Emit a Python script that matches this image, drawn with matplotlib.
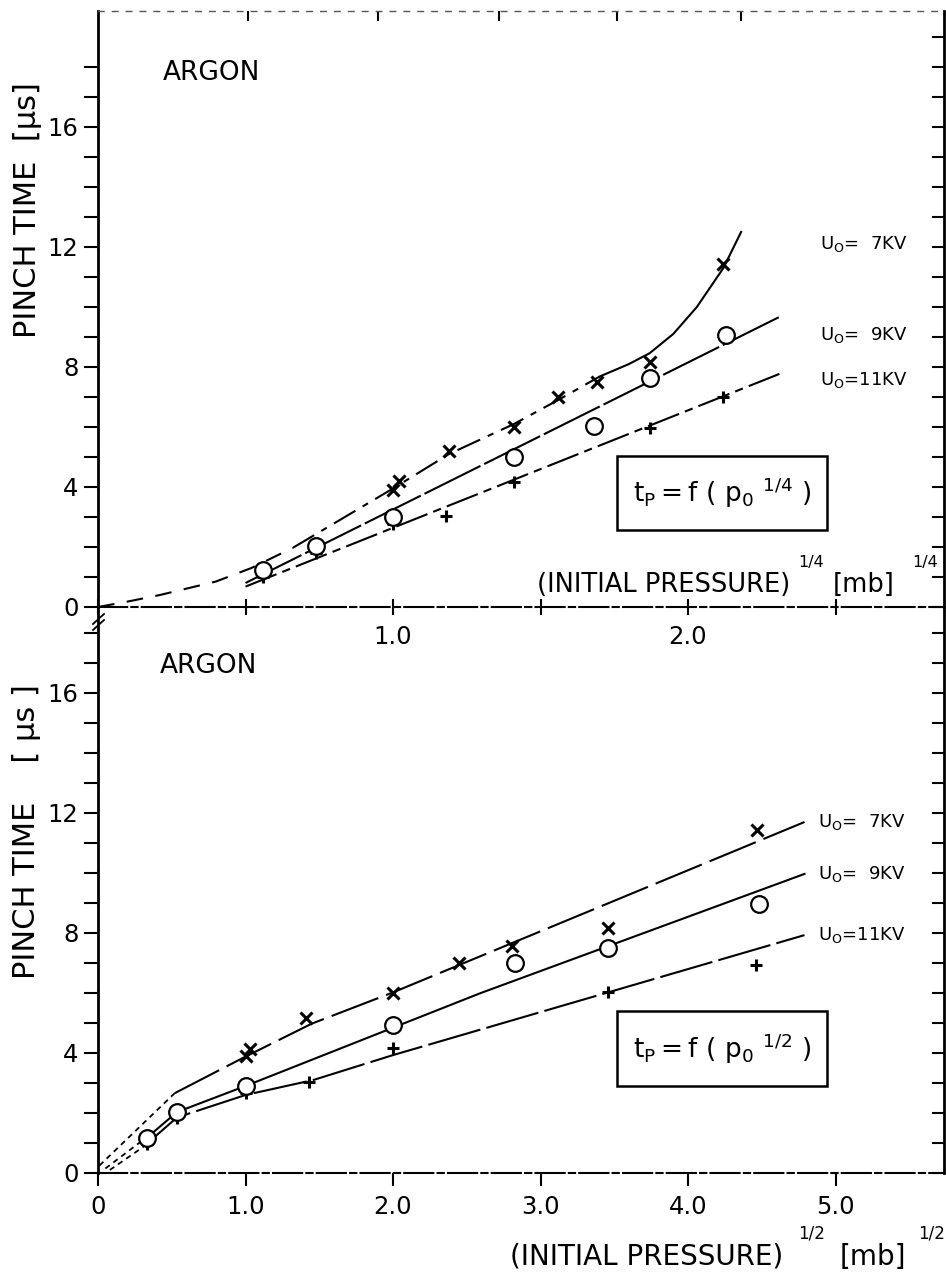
import matplotlib
matplotlib.use("Agg")
import matplotlib.pyplot as plt
from matplotlib.patches import Rectangle
from matplotlib.lines import Line2D
from matplotlib.ticker import FixedLocator, FixedFormatter, MultipleLocator

plt.rcParams['font.family'] = ['DejaVu Sans']
plt.rcParams['mathtext.fontset'] = 'dejavusans'

# ---- data ---------------------------------------------------------------
# upper panel : x = (initial pressure)^1/4 , y = pinch time [us]
top_x_7kv = [1.0, 1.02, 1.19, 1.41, 1.56, 1.69, 1.87, 2.12]
top_y_7kv = [3.9, 4.2, 5.2, 6.0, 7.0, 7.5, 8.17, 11.45]
top_x_9kv = [0.56, 0.74, 1.0, 1.41, 1.68, 1.87, 2.13]
top_y_9kv = [1.23, 2.03, 3.0, 5.0, 6.03, 7.63, 9.07]
top_x_11kv = [0.56, 0.74, 1.0, 1.18, 1.41, 1.87, 2.12]
top_y_11kv = [1.0, 1.8, 2.77, 3.03, 4.17, 5.97, 7.0]

# hand drawn curves of the upper panel
top_origin_x = [0, 0.1, 0.21, 0.4, 0.52, 0.66]
top_origin_y = [0, 0.18, 0.4, 0.85, 1.3, 1.97]
top_fit7_dash_x = [0.66, 1.0, 1.19, 1.41, 1.56, 1.7]
top_fit7_dash_y = [1.97, 3.95, 5.1, 6.1, 6.9, 7.68]
top_fit7_solid_x = [1.7, 1.8, 1.87, 1.95, 2.03, 2.12, 2.18]
top_fit7_solid_y = [7.68, 8.1, 8.46, 9.1, 10.0, 11.3, 12.5]
top_fit9_x = [0.5, 2.31]
top_fit9_y = [0.8, 9.67]
top_fit11_x = [0.5, 2.31]
top_fit11_y = [0.68, 7.77]

# lower panel : x = (initial pressure)^1/2
bot_x_7kv = [1.0, 1.03, 1.41, 2.0, 2.45, 2.81, 3.46, 4.47]
bot_y_7kv = [3.9, 4.12, 5.17, 6.0, 7.0, 7.57, 8.17, 11.43]
bot_x_9kv = [0.33, 0.535, 1.0, 2.0, 2.83, 3.46, 4.48]
bot_y_9kv = [1.17, 2.03, 2.9, 4.93, 7.0, 7.5, 8.97]
bot_x_11kv = [0.33, 0.535, 1.0, 1.43, 2.0, 3.46, 4.46]
bot_y_11kv = [0.97, 1.83, 2.67, 3.03, 4.17, 6.05, 6.93]

bot_fit7_x = [0.52, 1.0, 1.45, 2.0, 4.79]
bot_fit7_y = [2.66, 3.88, 4.98, 6.02, 11.7]
bot_fit9_x = [0.33, 0.535, 1.0, 2.59, 4.79]
bot_fit9_y = [1.17, 2.03, 2.9, 5.99, 9.97]
bot_fit11_x = [0.33, 0.535, 1.0, 1.46, 2.0, 4.79]
bot_fit11_y = [0.97, 1.85, 2.6, 3.1, 3.93, 7.93]
bot_orig7_x = [0.01, 0.52]
bot_orig7_y = [0.25, 2.66]
bot_orig9_x = [0.05, 0.3]
bot_orig9_y = [0.15, 1.08]
bot_orig11_x = [0.08, 0.31]
bot_orig11_y = [0.1, 0.88]

labels_kv = ['U$_\\mathrm{O}$=  7KV', 'U$_\\mathrm{O}$=  9KV', 'U$_\\mathrm{O}$=11KV']
top_label_y = [12.1, 9.07, 7.57]
bot_label_y = [11.7, 9.97, 7.93]

y_major = [0, 4, 8, 12, 16]
top_xticks = [0, 0.5, 1.0, 1.5, 2.0, 2.5]
top_xticklabels = ['', '', '1.0', '', '2.0', '']
top_spine_ticks = [0.51, 0.95, 1.36, 1.76, 2.18]
bot_xticks = [0, 1, 2, 3, 4, 5]
bot_xticklabels = ['0', '1.0', '2.0', '3.0', '4.0', '5.0']

# ---- layout (pixels of the 946 x 1277 picture) --------------------------
W, H = 946, 1277


def fx(px):
    return px / W


def fy(py):
    return 1 - py / H


fig = plt.figure(figsize=(9.46, 12.77), dpi=100)
fig.patch.set_facecolor('white')

ax1 = fig.add_axes([fx(98), fy(607), (944 - 98) / W, (607 - 11) / H])
ax2 = fig.add_axes([fx(98), fy(1173), (944 - 98) / W, (1173 - 607) / H])
ax1.set_xlim(0, 846 / 295)
ax1.set_ylim(0, 596 / 30)
ax2.set_xlim(0, 846 / 147.5)
ax2.set_ylim(0, 566 / 30)

lw = 1.5
mk_x = dict(marker='x', ms=8, mew=2.2, color='black', ls='none', zorder=5)
mk_o = dict(marker='o', ms=12, mew=1.6, mfc='white', mec='black', ls='none', zorder=6)
mk_p = dict(marker='+', ms=8, mew=2.2, color='black', ls='none', zorder=5)

# ---- upper panel --------------------------------------------------------
ax1.plot(top_origin_x, top_origin_y, color='black', lw=lw, ls=(0, (8, 6)))
ax1.plot(top_fit7_dash_x, top_fit7_dash_y, color='black', lw=lw, ls=(0, (12, 4, 3, 4)))
ax1.plot(top_fit7_solid_x, top_fit7_solid_y, color='black', lw=lw)
ax1.plot(top_fit9_x, top_fit9_y, color='black', lw=lw, ls=(0, (30, 2)))
ax1.plot(top_fit11_x, top_fit11_y, color='black', lw=lw, ls=(0, (16, 3, 4, 3)))
ax1.plot(top_x_7kv, top_y_7kv, **mk_x)
ax1.plot(top_x_9kv, top_y_9kv, **mk_o)
ax1.plot(top_x_11kv, top_y_11kv, **mk_p)

for lab, yy in zip(labels_kv, top_label_y):
    ax1.text((820 - 98) / 295, yy, lab, fontsize=13, va='center', ha='left')

# ---- lower panel --------------------------------------------------------
ax2.plot(bot_orig7_x, bot_orig7_y, color='black', lw=1.3, ls=(0, (3, 2.5)))
ax2.plot(bot_orig9_x, bot_orig9_y, color='black', lw=1.3, ls=(0, (3, 2.5)))
ax2.plot(bot_orig11_x, bot_orig11_y, color='black', lw=1.3, ls=(0, (3, 2.5)))
ax2.plot(bot_fit7_x, bot_fit7_y, color='black', lw=lw, ls=(0, (24, 4)))
ax2.plot(bot_fit9_x, bot_fit9_y, color='black', lw=lw)
ax2.plot(bot_fit11_x, bot_fit11_y, color='black', lw=lw, ls=(0, (26, 3)))
ax2.plot(bot_x_7kv, bot_y_7kv, **mk_x)
ax2.plot(bot_x_9kv, bot_y_9kv, **mk_o)
ax2.plot(bot_x_11kv, bot_y_11kv, **mk_p)

for lab, yy in zip(labels_kv, bot_label_y):
    ax2.text((818 - 98) / 147.5, yy, lab, fontsize=13, va='center', ha='left')

# ---- axes cosmetics -----------------------------------------------------
for ax in (ax1, ax2):
    ax.set_facecolor('none')
    ax.spines['left'].set_linewidth(2)
    ax.spines['right'].set_visible(False)
    ax.spines['bottom'].set_linewidth(1.5)
    ax.spines['bottom'].set_linestyle((0, (14, 2, 3, 2)))
    ax.yaxis.set_major_locator(FixedLocator(y_major))
    ax.yaxis.set_minor_locator(FixedLocator(list(range(0, 19))))
    ax.tick_params(axis='y', which='both', direction='out', length=10, width=1.5,
                   labelsize=17.5, pad=4, right=False)
    sec = ax.secondary_yaxis('right')
    sec.yaxis.set_major_locator(MultipleLocator(1))
    sec.tick_params(direction='in', length=9, width=1.5, labelright=False)
    sec.spines['right'].set_linewidth(2)

ax1.spines['top'].set_linewidth(1)
ax1.spines['top'].set_linestyle((0, (4, 6)))
ax1.spines['top'].set_color('#555555')
sec_top = ax1.secondary_xaxis('top')
sec_top.xaxis.set_major_locator(FixedLocator(top_spine_ticks))
sec_top.tick_params(direction='in', length=7, width=1.5, labeltop=False)
sec_top.spines['top'].set_visible(False)

ax2.spines['top'].set_visible(False)

ax1.xaxis.set_major_locator(FixedLocator(top_xticks))
ax1.xaxis.set_major_formatter(FixedFormatter(top_xticklabels))
ax1.tick_params(axis='x', direction='inout', length=12, width=1.5, labelsize=17.5, pad=7)

ax2.xaxis.set_major_locator(FixedLocator(bot_xticks))
ax2.xaxis.set_major_formatter(FixedFormatter(bot_xticklabels))
ax2.tick_params(axis='x', direction='out', length=9, width=1.5, labelsize=17.5, pad=7)

# ---- text ----------------------------------------------------------------
fig.text(fx(163), fy(80), 'ARGON', fontsize=19, ha='left', va='baseline')
fig.text(fx(160), fy(673), 'ARGON', fontsize=19, ha='left', va='baseline')

fig.text(fx(27), fy(210), 'PINCH TIME  [\u03bcs]', fontsize=22, rotation=90,
         ha='center', va='center')
fig.text(fx(27), fy(832), 'PINCH TIME    [ \u03bcs ]', fontsize=22, rotation=90,
         ha='center', va='center')

# x labels made of pieces: main text, exponent, unit, exponent
fig.text(fx(790), fy(592), '(INITIAL PRESSURE)', fontsize=18.5, ha='right', va='baseline')
fig.text(fx(798), fy(567), '1/4', fontsize=11.5, ha='left', va='baseline')
fig.text(fx(833), fy(592), '[mb]', fontsize=18.5, ha='left', va='baseline')
fig.text(fx(912), fy(567), '1/4', fontsize=11.5, ha='left', va='baseline')

fig.text(fx(783), fy(1265), '(INITIAL PRESSURE)', fontsize=20, ha='right', va='baseline')
fig.text(fx(798), fy(1239), '1/2', fontsize=12, ha='left', va='baseline')
fig.text(fx(840), fy(1265), '[mb]', fontsize=20, ha='left', va='baseline')
fig.text(fx(918), fy(1239), '1/2', fontsize=12, ha='left', va='baseline')

# formula boxes
for (x0, y0, x1, y1), expo in (((617, 456, 827, 530), '1/4'), ((617, 1011, 827, 1086), '1/2')):
    fig.patches.append(Rectangle((fx(x0), fy(y1)), fx(x1) - fx(x0), fy(y0) - fy(y1),
                                 transform=fig.transFigure, fill=False, lw=1.8,
                                 edgecolor='black'))
    fig.text((fx(x0) + fx(x1)) / 2, (fy(y0) + fy(y1)) / 2,
             r'$\mathregular{t_P = f\ (\ p_0\ {}^{%s}\ )}$' % expo,
             fontsize=19, ha='center', va='center')

# axis break mark on the left spine
for dy in (0, 6):
    fig.add_artist(Line2D([fx(93), fx(104)], [fy(624 + dy), fy(614 + dy)],
                          color='black', lw=1.3, transform=fig.transFigure))

fig.savefig('out.png', dpi=100, facecolor='white')
